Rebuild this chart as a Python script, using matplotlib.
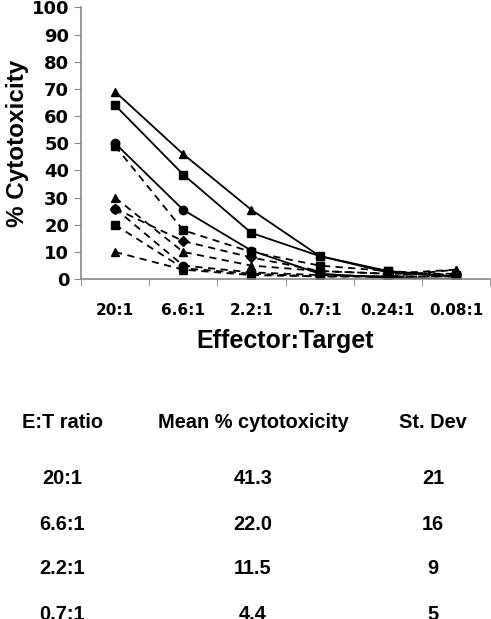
import numpy as np
import matplotlib
matplotlib.use('Agg')
import matplotlib.pyplot as plt
from matplotlib.ticker import FixedLocator

plt.rcParams['font.family'] = ['Liberation Sans', 'DejaVu Sans']

ratios = ["20:1", "6.6:1", "2.2:1", "0.7:1", "0.24:1", "0.08:1"]

# solid lines
solid_tri = [69, 46, 25.5, 8.5, 2.5, 1]
solid_sq = [64, 38.5, 17, 8.5, 3, 1]
solid_circ = [50, 25.5, 10.5, 2, 0.5, 0]

# dashed lines
dash_sq1 = [49, 18, 10, 5, 3, 1.5]
dash_dia = [26, 14, 8, 3, 2, 2]
dash_tri1 = [30, 10, 5, 3, 2, 3.5]
dash_circ = [26, 5, 2.5, 1.5, 1, 1]
dash_sq2 = [20, 4, 2, 1, 1, 1]
dash_tri2 = [10, 3.5, 1.5, 1, 1, 3.5]

# table under the chart
tbl_ratio = ["20:1", "6.6:1", "2.2:1", "0.7:1"]
tbl_mean = ["41.3", "22.0", "11.5", "4.4"]
tbl_sd = ["21", "16", "9", "5"]

fig = plt.figure(figsize=(4.91, 6.19), dpi=100)
ax = fig.add_axes([0.165, 0.549, 0.833, 0.439])

x = np.arange(len(ratios))
for y, m in [(dash_sq1, 's'), (dash_dia, 'D'), (dash_tri1, '^'),
             (dash_circ, 'o'), (dash_sq2, 's'), (dash_tri2, '^')]:
    ax.plot(x, y, '--', color='black', lw=1.3, marker=m,
            ms=5 if m == 'D' else 6, dashes=(4, 3))
for y, m in [(solid_tri, '^'), (solid_sq, 's'), (solid_circ, 'o')]:
    ax.plot(x, y, '-', color='black', lw=1.3, marker=m, ms=6)

ax.set_xlim(-0.5, len(ratios) - 0.5)
ax.set_ylim(0, 100)
ax.set_yticks(range(0, 101, 10))
ax.set_xticks(x)
ax.set_xticklabels(ratios, fontsize=11, fontweight='bold', family='DejaVu Sans')
ax.xaxis.set_minor_locator(FixedLocator(np.arange(-0.5, len(ratios), 1)))
ax.tick_params(axis='x', which='major', length=0, pad=17)
ax.tick_params(axis='x', which='minor', length=5, color='#888888', direction='out')
ax.tick_params(axis='y', length=5, color='#888888', labelsize=13)
for lab in ax.get_yticklabels():
    lab.set_fontweight('bold')
    lab.set_family('DejaVu Sans')
for s in ['top', 'right']:
    ax.spines[s].set_visible(False)
for s in ['left', 'bottom']:
    ax.spines[s].set_color('#888888')
    ax.spines[s].set_linewidth(1.2)
ax.set_ylabel('% Cytotoxicity', fontsize=17.5, fontweight='bold', labelpad=2)
ax.set_xlabel('Effector:Target', fontsize=18, fontweight='bold', labelpad=8)

# table text
def fy(py):
    return 1 - py / 619.0

fs = 14.4
fig.text(62 / 491, fy(423), "E:T ratio", ha='center', va='center', fontsize=fs, fontweight='bold')
fig.text(253 / 491, fy(423), "Mean % cytotoxicity", ha='center', va='center', fontsize=fs, fontweight='bold')
fig.text(433 / 491, fy(423), "St. Dev", ha='center', va='center', fontsize=fs, fontweight='bold')
for i in range(len(tbl_ratio)):
    py = 479 + 45 * i
    fig.text(62 / 491, fy(py), tbl_ratio[i], ha='center', va='center', fontsize=fs, fontweight='bold')
    fig.text(253 / 491, fy(py), tbl_mean[i], ha='center', va='center', fontsize=fs, fontweight='bold')
    fig.text(433 / 491, fy(py), tbl_sd[i], ha='center', va='center', fontsize=fs, fontweight='bold')

fig.savefig('out.png', dpi=100)
